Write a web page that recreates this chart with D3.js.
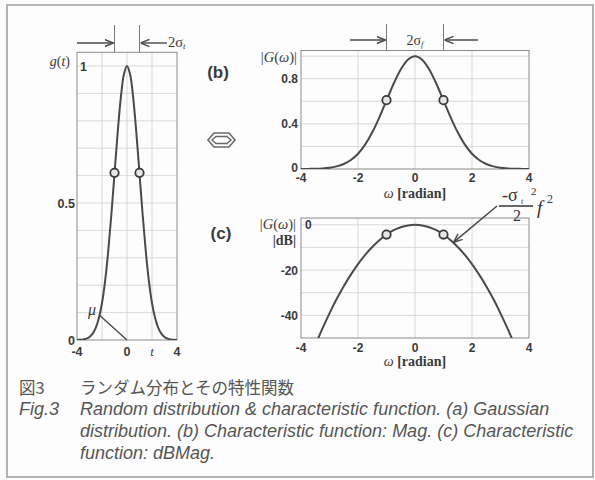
<!DOCTYPE html>
<html>
<head>
<meta charset="utf-8">
<script src="https://cdn.jsdelivr.net/npm/d3@7"></script>
<style>
  html, body { margin: 0; padding: 0; background: #fcfcfc; }
  svg { display: block; }
</style>
</head>
<body>
<script>
// Gaussian pulse g(t), sampled every 0.25 on t in [-4, 4]
const tSamples = [-4,-3.75,-3.5,-3.25,-3,-2.75,-2.5,-2.25,-2,-1.75,-1.5,-1.25,-1,-0.75,-0.5,-0.25,0,
                  0.25,0.5,0.75,1,1.25,1.5,1.75,2,2.25,2.5,2.75,3,3.25,3.5,3.75,4];
const gValues = [0,0.001,0.002,0.005,0.011,0.023,0.044,0.080,0.135,0.216,0.325,0.458,0.607,0.755,0.882,0.969,1,
                 0.969,0.882,0.755,0.607,0.458,0.325,0.216,0.135,0.080,0.044,0.023,0.011,0.005,0.002,0.001,0];

// |G(ω)| magnitude on ω in [-4, 4]
const omegaSamples = tSamples;
const magValues = [0,0.001,0.002,0.005,0.011,0.023,0.044,0.080,0.135,0.216,0.325,0.458,0.607,0.755,0.882,0.969,1,
                   0.969,0.882,0.755,0.607,0.458,0.325,0.216,0.135,0.080,0.044,0.023,0.011,0.005,0.002,0.001,0];

// |G(ω)| in dB on ω in [-3.5, 3.5]
const dbOmega = [-3.5,-3.25,-3,-2.75,-2.5,-2.25,-2,-1.75,-1.5,-1.25,-1,-0.75,-0.5,-0.25,0,
                 0.25,0.5,0.75,1,1.25,1.5,1.75,2,2.25,2.5,2.75,3,3.25,3.5];
const dbValues = [-53.2,-45.9,-39.1,-32.8,-27.1,-22.0,-17.4,-13.3,-9.8,-6.8,-4.3,-2.4,-1.1,-0.3,0,
                  -0.3,-1.1,-2.4,-4.3,-6.8,-9.8,-13.3,-17.4,-22.0,-27.1,-32.8,-39.1,-45.9,-53.2];

// ±σ points marked with circles
const sigmaT = [-1, 1];
const sigmaG = [0.61, 0.61];
const sigmaMag = [0.61, 0.61];
const sigmaDb = [-4.3, -4.3];

// tick labels
const ticksA_x = [{v:-4,l:"-4"},{v:0,l:"0"},{v:4,l:"4"}];
const ticksA_y = [{v:0,l:"0"},{v:0.5,l:"0.5"}];
const ticksB_x = [-4,-2,0,2,4];
const ticksB_y = [{v:0,l:"0"},{v:0.4,l:"0.4"},{v:0.8,l:"0.8"}];
const ticksC_y = [{v:-20,l:"-20"},{v:-40,l:"-40"}];

const W = 595, H = 480;
const svg = d3.select("body").append("svg").attr("width", W).attr("height", H);

const INK = "#4a4a4a", GRID = "#cfcfcf", BOX = "#8a8a8a", LABEL = "#3a3a3a";
const SANS = "'Liberation Sans', Arial, sans-serif";
const SERIF = "'Liberation Serif', 'Times New Roman', serif";

// outer frame
svg.append("rect").attr("x", 7).attr("y", 5).attr("width", 586).attr("height", 472)
  .attr("fill", "#fdfdfd").attr("stroke", "#9a9a9a").attr("stroke-width", 1.5);

const defs = svg.append("defs");
defs.append("marker").attr("id", "ah").attr("viewBox", "0 0 10 10")
  .attr("refX", 10).attr("refY", 5).attr("markerWidth", 9).attr("markerHeight", 9)
  .attr("markerUnits", "userSpaceOnUse").attr("orient", "auto")
  .append("path").attr("d", "M0,1 L10,5 L0,9").attr("fill", "none").attr("stroke", INK).attr("stroke-width", 1.6);

function panel(g, x, y, xGrid, yGrid, id) {
  const [x0, x1] = x.range(), [y0, y1] = y.range();
  defs.append("clipPath").attr("id", id).append("rect")
    .attr("x", x0).attr("y", y1).attr("width", x1 - x0).attr("height", y0 - y1);
  g.append("g").selectAll("line").data(xGrid).join("line")
    .attr("x1", d => x(d)).attr("x2", d => x(d)).attr("y1", y0).attr("y2", y1)
    .attr("stroke", GRID).attr("stroke-width", 0.8);
  g.append("g").selectAll("line").data(yGrid).join("line")
    .attr("y1", d => y(d)).attr("y2", d => y(d)).attr("x1", x0).attr("x2", x1)
    .attr("stroke", GRID).attr("stroke-width", 0.8);
  g.append("rect").attr("x", x0).attr("y", y1).attr("width", x1 - x0).attr("height", y0 - y1)
    .attr("fill", "none").attr("stroke", BOX).attr("stroke-width", 1);
}

function curve(g, x, y, xs, ys, id) {
  const pts = xs.map((v, i) => [v, ys[i]]);
  g.append("path").datum(pts)
    .attr("clip-path", `url(#${id})`)
    .attr("d", d3.line().x(d => x(d[0])).y(d => y(d[1])).curve(d3.curveCatmullRom))
    .attr("fill", "none").attr("stroke", INK).attr("stroke-width", 2);
}

function markers(g, x, y, xs, ys) {
  g.append("g").selectAll("circle").data(xs.map((v, i) => [v, ys[i]])).join("circle")
    .attr("cx", d => x(d[0])).attr("cy", d => y(d[1])).attr("r", 4.2)
    .attr("fill", "#e6e6e6").attr("stroke", "#3a3a3a").attr("stroke-width", 1.8);
}

function text(g, x, y, s, opts = {}) {
  return g.append("text").attr("x", x).attr("y", y).text(s)
    .attr("font-family", opts.family || SANS)
    .attr("font-size", opts.size || 12)
    .attr("font-weight", opts.weight || "normal")
    .attr("font-style", opts.style || "normal")
    .attr("text-anchor", opts.anchor || "start")
    .attr("fill", opts.fill || LABEL);
}

// width marker: two arrows pointing at vertical bars at ±σ
function widthMarker(g, x, yTop, yBar, yArrow, leftStart, rightStart) {
  const xl = x(-1), xr = x(1);
  [xl, xr].forEach(v => g.append("line").attr("x1", v).attr("x2", v).attr("y1", yTop).attr("y2", yBar)
    .attr("stroke", "#777").attr("stroke-width", 1));
  g.append("line").attr("x1", leftStart).attr("x2", xl - 1).attr("y1", yArrow).attr("y2", yArrow)
    .attr("stroke", INK).attr("stroke-width", 1.4).attr("marker-end", "url(#ah)");
  g.append("line").attr("x1", rightStart).attr("x2", xr + 1).attr("y1", yArrow).attr("y2", yArrow)
    .attr("stroke", INK).attr("stroke-width", 1.4).attr("marker-end", "url(#ah)");
}

// ---------- (a) Gaussian distribution ----------
const xA = d3.scaleLinear([-4, 4], [77, 177]);
const yA = d3.scaleLinear([0, 1.05], [340, 52.3]);
const gA = svg.append("g");
panel(gA, xA, yA, [-2, 0, 2], d3.range(1, 11).map(i => i / 10), "clipA");
curve(gA, xA, yA, tSamples, gValues, "clipA");
markers(gA, xA, yA, sigmaT, sigmaG);
ticksA_x.forEach(d => text(gA, xA(d.v), 356, d.l, {anchor: "middle", weight: "bold", size: 12.5}));
text(gA, xA(2), 356, "t", {anchor: "middle", family: SERIF, style: "italic", size: 13});
ticksA_y.forEach(d => text(gA, 75, yA(d.v) + 4.5, d.l, {anchor: "end", weight: "bold", size: 12.5}));
text(gA, 80, yA(1) + 4.5, "1", {weight: "bold", size: 12.5});
const gLab = text(gA, 70, 66, "", {anchor: "end", family: SERIF, size: 14});
gLab.append("tspan").attr("font-style", "italic").text("g");
gLab.append("tspan").text("(");
gLab.append("tspan").attr("font-style", "italic").text("t");
gLab.append("tspan").text(")");
// mean marker
text(gA, 92, 315, "μ", {anchor: "middle", family: SERIF, style: "italic", size: 16});
gA.append("line").attr("x1", xA(-2.2)).attr("y1", yA(0.09)).attr("x2", xA(0)).attr("y2", yA(0))
  .attr("stroke", INK).attr("stroke-width", 1.4);
widthMarker(gA, xA, 25, 52, 43, 77, 167);
const sA = text(gA, 168, 47, "2σ", {family: SERIF, size: 14.5});
sA.append("tspan").attr("font-size", 9).attr("dy", 2).attr("font-style", "italic").text("t");

// ---------- (b) characteristic function magnitude ----------
const xB = d3.scaleLinear([-4, 4], [301, 529]);
const yB = d3.scaleLinear([0, 1.05], [169, 50.5]);
const gB = svg.append("g");
panel(gB, xB, yB, [-2, 0, 2], [0.2, 0.4, 0.6, 0.8, 1.0], "clipB");
curve(gB, xB, yB, omegaSamples, magValues, "clipB");
markers(gB, xB, yB, sigmaT, sigmaMag);
ticksB_x.forEach(v => text(gB, xB(v), 182, String(v), {anchor: "middle", weight: "bold", size: 12}));
ticksB_y.forEach(d => text(gB, 298, yB(d.v) + (d.v === 0 ? 2.5 : 4.5), d.l, {anchor: "end", weight: "bold", size: 12}));
const lb = text(gB, 297, 62, "", {anchor: "end", family: SERIF, size: 14.5});
lb.append("tspan").text("|");
lb.append("tspan").attr("font-style", "italic").text("G");
lb.append("tspan").text("(");
lb.append("tspan").attr("font-style", "italic").text("ω");
lb.append("tspan").text(")|");
const xlB = text(gB, xB(0), 198, "", {anchor: "middle", family: SERIF, size: 14});
xlB.append("tspan").attr("font-style", "italic").text("ω ");
xlB.append("tspan").attr("font-weight", "bold").text("[radian]");
widthMarker(gB, xB, 24, 50, 40, 350, 478);
const sB = text(gB, xB(0), 45, "2σ", {anchor: "middle", family: SERIF, size: 14});
sB.append("tspan").attr("font-size", 8.5).attr("dy", 2).attr("font-style", "italic").text("f");

// ---------- (c) characteristic function in dB ----------
const xC = d3.scaleLinear([-4, 4], [301, 529]);
const yC = d3.scaleLinear([-50, 3], [338, 218]);
const gC = svg.append("g");
panel(gC, xC, yC, [-2, 0, 2], [-40, -30, -20, -10, 0], "clipC");
curve(gC, xC, yC, dbOmega, dbValues, "clipC");
markers(gC, xC, yC, sigmaT, sigmaDb);
ticksB_x.forEach(v => text(gC, xC(v), 352, String(v), {anchor: "middle", weight: "bold", size: 12}));
ticksC_y.forEach(d => text(gC, 298, yC(d.v) + 4.5, d.l, {anchor: "end", weight: "bold", size: 12}));
text(gC, 305, yC(0) + 4.5, "0", {weight: "bold", size: 12});
const lc = text(gC, 296, 229, "", {anchor: "end", family: SERIF, size: 14.5});
lc.append("tspan").text("|");
lc.append("tspan").attr("font-style", "italic").text("G");
lc.append("tspan").text("(");
lc.append("tspan").attr("font-style", "italic").text("ω");
lc.append("tspan").text(")|");
text(gC, 296, 245, "|dB|", {anchor: "end", family: SERIF, size: 14, weight: "bold"});
const xlC = text(gC, xC(0), 366, "", {anchor: "middle", family: SERIF, size: 14});
xlC.append("tspan").attr("font-style", "italic").text("ω ");
xlC.append("tspan").attr("font-weight", "bold").text("[radian]");

// parabola annotation: -σt²/2 · f²
gC.append("line").attr("x1", 497).attr("y1", 206).attr("x2", xC(1.35)).attr("y2", yC(-7.8))
  .attr("stroke", INK).attr("stroke-width", 1.6).attr("marker-end", "url(#ah)");
text(gC, 502, 201, "-σ", {family: SERIF, size: 18, fill: "#333"});
text(gC, 521, 204, "t", {family: SERIF, style: "italic", size: 8, fill: "#333"});
text(gC, 531, 195, "2", {family: SERIF, size: 11, fill: "#333"});
gC.append("line").attr("x1", 499).attr("x2", 533).attr("y1", 206).attr("y2", 206)
  .attr("stroke", "#333").attr("stroke-width", 1.6);
text(gC, 517, 221, "2", {anchor: "middle", family: SERIF, size: 16, fill: "#333"});
text(gC, 537, 214, "f", {family: SERIF, style: "italic", size: 19, fill: "#333"});
text(gC, 547, 203, "2", {family: SERIF, size: 12, fill: "#333"});

// panel letters and transform-pair symbol
text(svg, 218, 78, "(b)", {anchor: "middle", weight: "bold", size: 17, fill: "#3a3a3a"});
text(svg, 221, 239, "(c)", {anchor: "middle", weight: "bold", size: 17, fill: "#3a3a3a"});
const hex = (x0, x1, y0, y1, k) => `M${x0},${(y0 + y1) / 2} L${x0 + k},${y0} L${x1 - k},${y0} L${x1},${(y0 + y1) / 2} L${x1 - k},${y1} L${x0 + k},${y1} Z`;
svg.append("path").attr("d", hex(208, 235, 133, 147, 6)).attr("fill", "none").attr("stroke", "#6a6a6a").attr("stroke-width", 1.6);
svg.append("path").attr("d", hex(212, 231, 136.5, 143.5, 4)).attr("fill", "none").attr("stroke", "#6a6a6a").attr("stroke-width", 1.4);

// caption
const CAP = "#555";
const JP = "'Noto Sans CJK JP', sans-serif";
text(svg, 19, 394, "図3", {family: JP, size: 16.5, fill: CAP});
text(svg, 80, 394, "ランダム分布とその特性関数", {family: JP, size: 16.5, fill: CAP});
const capLines = [
  "Random distribution & characteristic function. (a) Gaussian",
  "distribution. (b) Characteristic function: Mag. (c) Characteristic",
  "function: dBMag."
];
text(svg, 19, 415, "Fig.3", {style: "italic", size: 18, fill: CAP});
capLines.forEach((s, i) => text(svg, 80, 415 + i * 22, s, {style: "italic", size: 18, fill: CAP}));
</script>
</body>
</html>
